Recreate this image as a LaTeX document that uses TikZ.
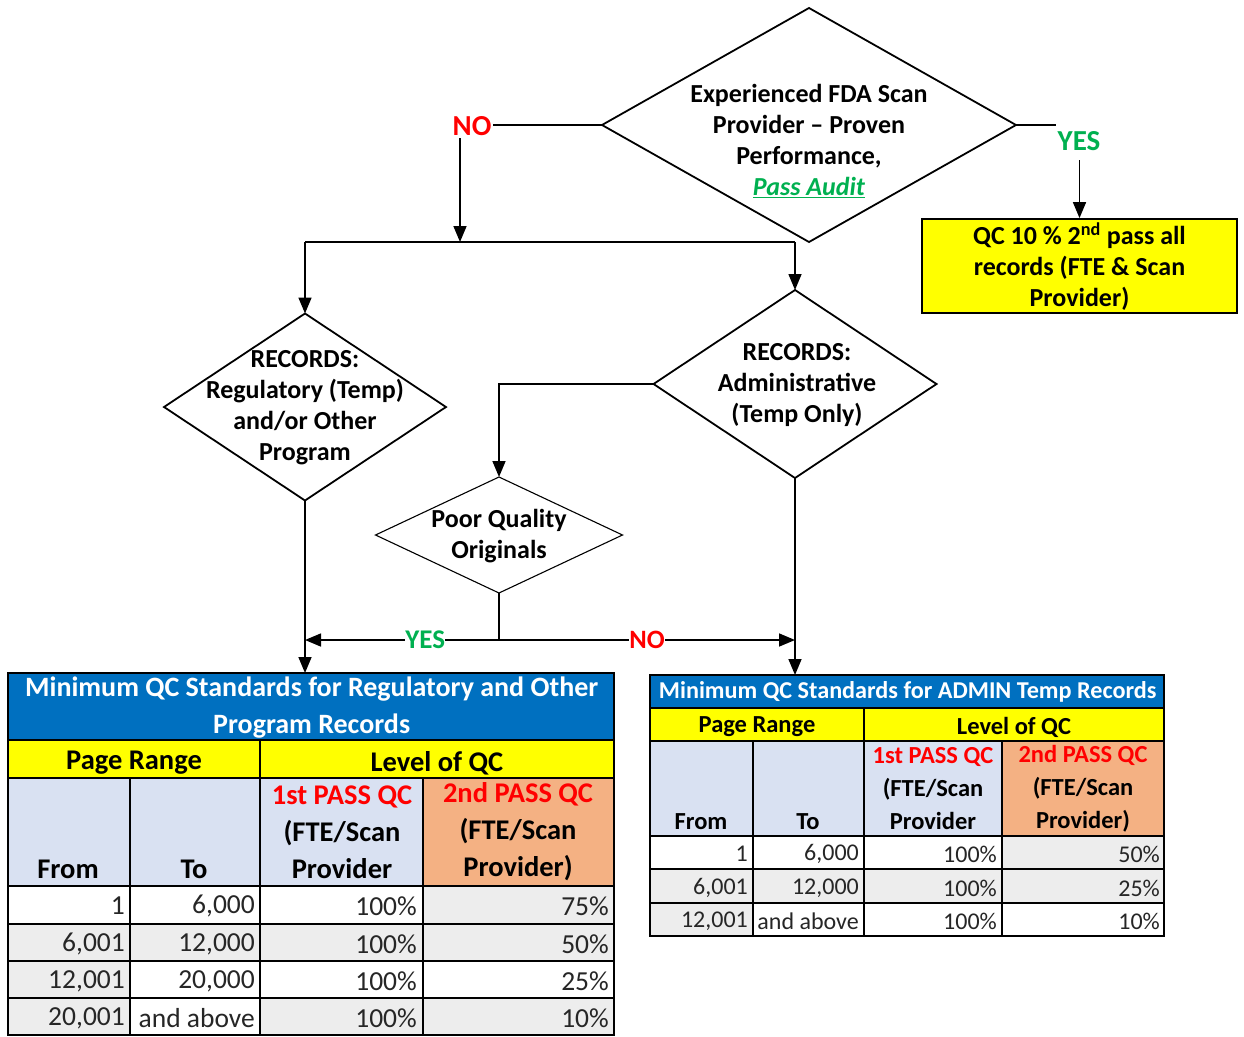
\documentclass[tikz,border=0pt]{standalone}
\usepackage{fontspec}
\setmainfont{Carlito}
\usetikzlibrary{shapes.geometric,arrows.meta}
\definecolor{blueT}{RGB}{0,112,192}
\definecolor{yelT}{RGB}{255,255,0}
\definecolor{hdrT}{RGB}{217,225,242}
\definecolor{orgT}{RGB}{244,177,131}
\definecolor{grT}{RGB}{237,237,237}
\definecolor{redT}{RGB}{255,0,0}
\definecolor{grnT}{RGB}{0,176,80}
\definecolor{numT}{RGB}{38,38,38}
\newcommand\tcell[5]{\filldraw[fill=#5,draw=black,line width=1.4pt] (#1,#2) rectangle (#3,#4);}
\begin{document}
\begin{tikzpicture}[x=1pt,y=-1pt,
  dia/.style={draw, line width=1.8pt, shape=diamond, inner sep=0pt, outer sep=0pt},
  dtxt/.style={font=\fontsize{26}{31}\selectfont\bfseries, align=center, inner sep=0pt},
  arr/.style={line width=1.6pt, -{Triangle[length=16pt,width=13pt]}},
  ln/.style={line width=1.6pt},
  lbl/.style={font=\fontsize{29}{32}\selectfont\bfseries, fill=white, inner sep=2pt},
  hA/.style={font=\fontsize{28.5}{37}\selectfont\bfseries, align=center, inner sep=0pt},
  hB/.style={font=\fontsize{24.5}{33}\selectfont\bfseries, align=center, inner sep=0pt},
  nA/.style={font=\fontsize{27.5}{30}\selectfont, text=numT, anchor=east, inner sep=0pt},
  nB/.style={font=\fontsize{24}{27}\selectfont, text=numT, anchor=east, inner sep=0pt}
]
\useasboundingbox (0,0) rectangle (1244,1036);

% ---------- decision nodes ----------
\node[dia, minimum width=414pt, minimum height=234pt] (d1) at (809,125) {};
\node[dtxt] (t1) at (809,141) {Experienced FDA Scan\\Provider -- Proven\\Performance,\\\textcolor{grnT}{\underline{\textit{Pass Audit}}}};

\node[draw, line width=1.8pt, fill=yelT, minimum width=315pt, minimum height=94pt, inner sep=0pt] (qc) at (1079.5,266) {};
\node[dtxt] (tqc) at (1079.5,267) {QC 10 \% 2\textsuperscript{nd} pass all\\records (FTE \& Scan\\Provider)};

\node[dia, minimum width=282pt, minimum height=187pt] (d2) at (305,407) {};
\node[dtxt] (t2) at (305,408) {RECORDS:\\Regulatory (Temp)\\and/or Other\\Program};

\node[dia, minimum width=283pt, minimum height=188pt] (d3) at (795,384) {};
\node[dtxt] (t3) at (797,385) {RECORDS:\\Administrative\\(Temp Only)};

\node[dia, line width=1.1pt, minimum width=247pt, minimum height=116pt] (d4) at (499,535) {};
\node[dtxt] (t4) at (499,536) {Poor Quality\\Originals};

% ---------- tables: title nodes ----------
\node[draw, line width=1.4pt, fill=blueT, minimum width=606pt, minimum height=67pt, anchor=north west, inner sep=0pt,
  font=\fontsize{28}{37}\selectfont\bfseries, text=white, align=center] (tab1) at (8,673)
  {Minimum QC Standards for Regulatory and Other\\Program Records};
\node[draw, line width=1.4pt, fill=blueT, minimum width=514pt, minimum height=33pt, anchor=north west, inner sep=0pt,
  font=\fontsize{24.2}{27}\selectfont\bfseries, text=white] (tab2) at (650,675)
  {Minimum QC Standards for ADMIN Temp Records};

% ---------- connectors ----------
\coordinate (split) at (460,242);
\draw[arr] (d1.west) -| (split);
\node[lbl, text=redT] (no1) at (472,126) {NO};
\draw[ln] (split -| d2.north) -- (split -| d3.north);
\draw[arr] (split -| d2.north) -- (d2.north);
\draw[arr] (split -| d3.north) -- (d3.north);

\draw[arr] (d1.east) -| (qc.north);
\node[lbl, text=grnT, minimum height=38pt] (yes1) at (1079,141) {YES};

\draw[arr] (d3.west) -| (d4.north);
\coordinate (j) at (499,640);
\draw[ln] (d4.south) -- (j);
\draw[arr] (j) -- (j -| d2.south) node[pos=0.38, lbl, text=grnT, inner sep=0pt, font=\fontsize{27}{29}\selectfont\bfseries] (yes2) {YES};
\draw[arr] (j) -- (j -| d3.south) node[pos=0.5, lbl, text=redT, inner sep=0pt, font=\fontsize{26.5}{29}\selectfont\bfseries] (no2) {NO};
\draw[arr] (d2.south) -- (d2.south |- tab1.north);
\draw[arr] (d3.south) -- (d3.south |- tab2.north);

% ---------- left table ----------
\tcell{8}{740}{260}{778}{yelT}
\tcell{260}{740}{614}{778}{yelT}
\tcell{8}{778}{130}{886}{hdrT}
\tcell{130}{778}{260}{886}{hdrT}
\tcell{260}{778}{423}{886}{hdrT}
\tcell{423}{778}{614}{886}{orgT}
% row 1
\tcell{8}{886}{130}{924}{white}
\tcell{130}{886}{260}{924}{white}
\tcell{260}{886}{423}{924}{white}
\tcell{423}{886}{614}{924}{grT}
% row 2
\tcell{8}{924}{130}{961}{grT}
\tcell{130}{924}{260}{961}{grT}
\tcell{260}{924}{423}{961}{grT}
\tcell{423}{924}{614}{961}{grT}
% row 3
\tcell{8}{961}{130}{998}{grT}
\tcell{130}{961}{260}{998}{white}
\tcell{260}{961}{423}{998}{white}
\tcell{423}{961}{614}{998}{white}
% row 4
\tcell{8}{998}{130}{1035}{grT}
\tcell{130}{998}{260}{1035}{white}
\tcell{260}{998}{423}{1035}{grT}
\tcell{423}{998}{614}{1035}{grT}
\draw[line width=2.4pt] (8,673) rectangle (614,1035);

\node[hA] at (134,763) {Page Range};
\node[hA] at (437,763) {Level of QC};
\node[hA] at (68,869) {From};
\node[hA] at (194,869) {To};
\node[hA] at (342,832) {\textcolor{redT}{1st PASS QC}\\(FTE/Scan\\Provider};
\node[hA] at (518,832) {\textcolor{redT}{2nd PASS QC}\\(FTE/Scan\\Provider)};

\node[nA] at (125,906) {1};      \node[nA] at (255,906) {6,000};     \node[nA] at (417,906) {100\%}; \node[nA] at (609,906) {75\%};
\node[nA] at (125,944) {6,001};  \node[nA] at (255,944) {12,000};    \node[nA] at (417,944) {100\%}; \node[nA] at (609,944) {50\%};
\node[nA] at (125,981) {12,001}; \node[nA] at (255,981) {20,000};    \node[nA] at (417,981) {100\%}; \node[nA] at (609,981) {25\%};
\node[nA] at (125,1018) {20,001};\node[nA] at (255,1018) {and above};\node[nA] at (417,1018) {100\%}; \node[nA] at (609,1018) {10\%};

% ---------- right table ----------
\tcell{650}{708}{864}{741}{yelT}
\tcell{864}{708}{1164}{741}{yelT}
\tcell{650}{741}{753}{836}{hdrT}
\tcell{753}{741}{864}{836}{hdrT}
\tcell{864}{741}{1002}{836}{hdrT}
\tcell{1002}{741}{1164}{836}{orgT}
\tcell{650}{836}{753}{869}{white}
\tcell{753}{836}{864}{869}{white}
\tcell{864}{836}{1002}{869}{white}
\tcell{1002}{836}{1164}{869}{grT}
\tcell{650}{869}{753}{903}{grT}
\tcell{753}{869}{864}{903}{grT}
\tcell{864}{869}{1002}{903}{grT}
\tcell{1002}{869}{1164}{903}{grT}
\tcell{650}{903}{753}{936}{grT}
\tcell{753}{903}{864}{936}{white}
\tcell{864}{903}{1002}{936}{white}
\tcell{1002}{903}{1164}{936}{white}
\draw[line width=2.4pt] (650,675) rectangle (1164,936);

\node[hB] at (757,727) {Page Range};
\node[hB] at (1014,727) {Level of QC};
\node[hB] at (701,822) {From};
\node[hB] at (808,822) {To};
\node[hB] at (933,789) {\textcolor{redT}{1st PASS QC}\\(FTE/Scan\\Provider};
\node[hB] at (1083,789) {\textcolor{redT}{2nd PASS QC}\\(FTE/Scan\\Provider)};

\node[nB] at (748,854) {1};      \node[nB] at (859,854) {6,000};     \node[nB] at (997,854) {100\%}; \node[nB] at (1160,854) {50\%};
\node[nB] at (748,888) {6,001};  \node[nB] at (859,888) {12,000};    \node[nB] at (997,888) {100\%}; \node[nB] at (1160,888) {25\%};
\node[nB] at (748,921) {12,001}; \node[nB] at (859,921) {and above}; \node[nB] at (997,921) {100\%}; \node[nB] at (1160,921) {10\%};
\end{tikzpicture}
\end{document}
